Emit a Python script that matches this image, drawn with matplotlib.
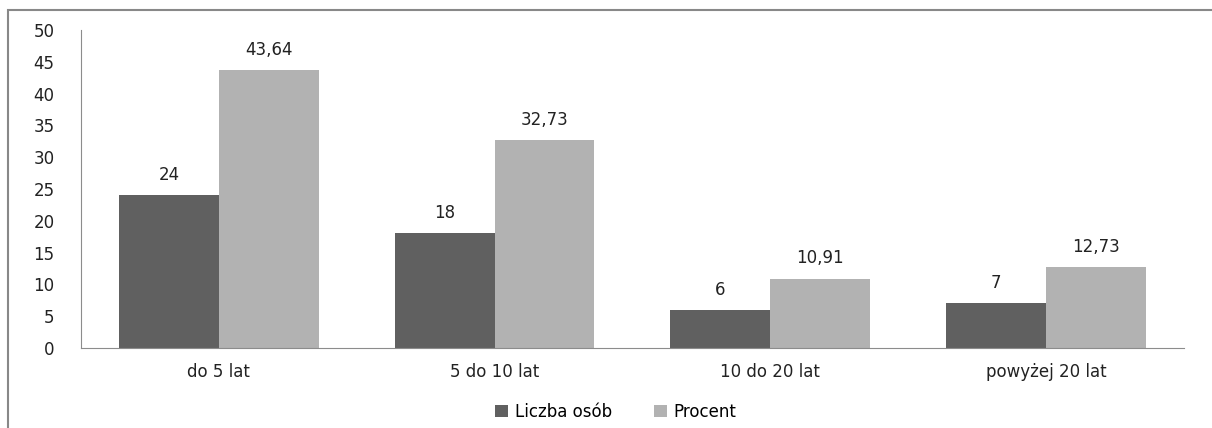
import numpy as np
import matplotlib.pyplot as plt
from matplotlib.patches import Rectangle

categories = ['do 5 lat', '5 do 10 lat', '10 do 20 lat', 'powyżej 20 lat']
liczba = [24, 18, 6, 7]
procent = [43.64, 32.73, 10.91, 12.73]
liczba_labels = ['24', '18', '6', '7']
procent_labels = ['43,64', '32,73', '10,91', '12,73']

plt.rcParams['font.family'] = 'DejaVu Sans'
fs = 12

fig = plt.figure(figsize=(12.12, 4.28), dpi=100)
ax = fig.add_axes([0.0668, 0.187, 0.910, 0.743])

x = np.arange(len(categories))
w = 0.362
b1 = ax.bar(x - w / 2, liczba, w, color='#606060', label='Liczba osób')
b2 = ax.bar(x + w / 2, procent, w, color='#b2b2b2', label='Procent')

for bars, labels in [(b1, liczba_labels), (b2, procent_labels)]:
    for rect, lab in zip(bars, labels):
        ax.annotate(lab, (rect.get_x() + rect.get_width() / 2, rect.get_height()),
                    xytext=(0, 8), textcoords='offset points',
                    ha='center', va='bottom', fontsize=fs, color='#222222')

ax.set_xlim(-0.5, 3.5)
ax.set_ylim(0, 50)
ax.set_yticks(range(0, 51, 5))
ax.set_xticks(x)
ax.set_xticklabels(categories, fontsize=fs, color='#222222')
ax.tick_params(axis='y', labelsize=fs, labelcolor='#222222', length=0, pad=19)
ax.tick_params(axis='x', length=0, pad=11)
for s in ['top', 'right']:
    ax.spines[s].set_visible(False)
ax.spines['left'].set_color('#8c8c8c')
ax.spines['bottom'].set_color('#8c8c8c')

ax.legend(loc='upper center', bbox_to_anchor=(0.485, -0.125), ncol=2, frameon=False,
          fontsize=fs, handlelength=0.8, handleheight=0.8, columnspacing=2.5,
          handletextpad=0.4)

# outer chart border (left and top only visible)
fig.patches.append(Rectangle((8 / 1212, -0.1), 1.2, 1 - 10 / 428 + 0.1,
                             transform=fig.transFigure, fill=False,
                             edgecolor='#888888', linewidth=1.5))

fig.savefig('out.png', dpi=100)
